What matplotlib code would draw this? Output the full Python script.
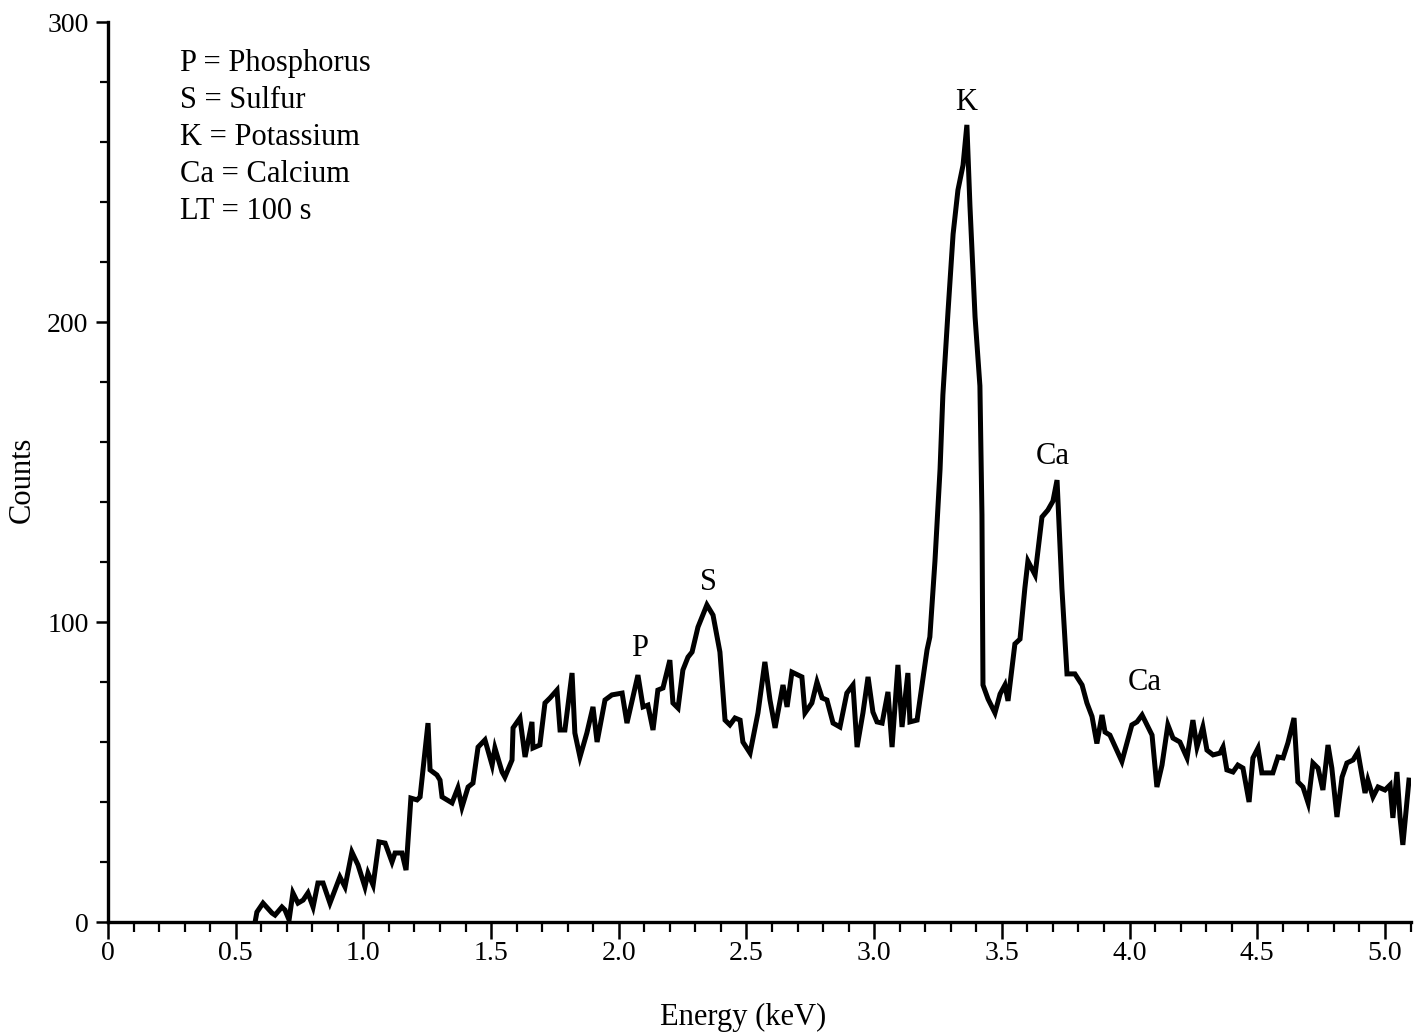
import matplotlib
matplotlib.use('Agg')
from matplotlib import pyplot as plt
from matplotlib.ticker import MultipleLocator

plt.rcParams['font.family'] = 'Liberation Serif'

# spectrum: energy (keV) and counts
energy = [
    0.576, 0.583, 0.607, 0.642, 0.654, 0.681, 0.693, 0.709, 0.724, 0.744,
    0.764, 0.783, 0.803, 0.822, 0.842, 0.869, 0.908, 0.928, 0.955, 0.979,
    1.006, 1.018, 1.038, 1.061, 1.085, 1.112, 1.124, 1.151, 1.167, 1.186,
    1.210, 1.222, 1.241, 1.253, 1.261, 1.288, 1.300, 1.308, 1.347, 1.370,
    1.386, 1.410, 1.429, 1.449, 1.476, 1.504, 1.515, 1.543, 1.554, 1.582,
    1.586, 1.613, 1.633, 1.660, 1.664, 1.691, 1.711, 1.731, 1.758, 1.770,
    1.789, 1.817, 1.828, 1.848, 1.875, 1.899, 1.915, 1.946, 1.973, 2.013,
    2.032, 2.075, 2.095, 2.114, 2.134, 2.153, 2.173, 2.200, 2.212, 2.232,
    2.251, 2.271, 2.287, 2.310, 2.345, 2.369, 2.396, 2.416, 2.435, 2.455,
    2.475, 2.486, 2.514, 2.545, 2.572, 2.592, 2.612, 2.643, 2.659, 2.678,
    2.717, 2.729, 2.756, 2.776, 2.796, 2.815, 2.839, 2.866, 2.893, 2.917,
    2.933, 2.956, 2.976, 2.995, 3.011, 3.031, 3.054, 3.070, 3.093, 3.109,
    3.132, 3.140, 3.168, 3.179, 3.207, 3.218, 3.238, 3.258, 3.269, 3.289,
    3.309, 3.328, 3.348, 3.363, 3.375, 3.395, 3.414, 3.422, 3.426, 3.446,
    3.473, 3.493, 3.512, 3.524, 3.551, 3.571, 3.590, 3.602, 3.630, 3.657,
    3.680, 3.700, 3.716, 3.735, 3.755, 3.786, 3.814, 3.833, 3.853, 3.872,
    3.892, 3.904, 3.923, 3.970, 4.009, 4.029, 4.049, 4.068, 4.088, 4.107,
    4.127, 4.150, 4.170, 4.197, 4.225, 4.248, 4.264, 4.287, 4.303, 4.327,
    4.354, 4.366, 4.381, 4.405, 4.424, 4.444, 4.468, 4.483, 4.503, 4.518,
    4.561, 4.581, 4.601, 4.620, 4.644, 4.659, 4.679, 4.699, 4.718, 4.738,
    4.757, 4.777, 4.792, 4.812, 4.832, 4.851, 4.875, 4.894, 4.922, 4.933,
    4.953, 4.973, 5.000, 5.020, 5.031, 5.047, 5.059, 5.070, 5.094,
]
counts = [
    0.0, 3.3, 6.3, 3.0, 2.3, 5.0, 4.0, 0.7, 9.7, 6.3,
    7.3, 9.7, 5.0, 13.0, 13.0, 6.3, 15.0, 11.7, 23.3, 19.0,
    11.7, 16.3, 12.3, 26.7, 26.3, 20.0, 23.0, 23.0, 17.3, 41.3,
    40.7, 41.7, 56.7, 66.3, 50.7, 49.0, 47.3, 41.7, 39.7, 44.7,
    38.3, 45.0, 46.3, 58.3, 60.7, 52.3, 58.0, 50.0, 48.3, 54.0,
    64.7, 68.0, 55.0, 66.7, 58.0, 59.0, 73.0, 74.7, 77.3, 64.0,
    64.0, 83.0, 63.0, 55.0, 63.0, 71.7, 60.0, 74.0, 75.7, 76.3,
    66.3, 82.3, 71.7, 72.3, 64.0, 77.3, 78.0, 87.3, 73.0, 71.3,
    84.0, 88.3, 90.0, 98.3, 105.7, 102.3, 90.0, 67.3, 65.7, 68.0,
    67.3, 60.0, 56.3, 69.7, 86.7, 74.0, 64.7, 79.0, 71.7, 83.3,
    81.7, 69.7, 73.0, 80.0, 74.7, 74.0, 66.3, 65.0, 76.3, 79.0,
    58.3, 69.7, 81.7, 70.0, 66.7, 66.3, 76.7, 58.3, 85.7, 65.0,
    83.0, 66.7, 67.3, 74.0, 90.7, 95.0, 120.3, 151.0, 175.7, 203.3,
    229.3, 244.0, 252.3, 265.7, 238.7, 201.7, 178.7, 135.7, 79.0, 74.3,
    69.7, 76.0, 79.0, 73.7, 92.7, 94.3, 111.3, 120.3, 115.7, 135.0,
    137.3, 140.3, 147.3, 111.3, 82.7, 82.7, 79.0, 73.0, 68.5, 59.5,
    69.0, 63.3, 62.3, 53.5, 65.7, 66.7, 69.0, 65.7, 62.3, 45.0,
    52.3, 65.7, 61.3, 60.0, 54.7, 67.3, 58.3, 65.0, 57.3, 55.7,
    56.3, 58.3, 50.7, 50.0, 52.3, 51.3, 40.0, 54.7, 58.0, 49.7,
    49.7, 55.0, 54.7, 59.7, 68.0, 46.7, 45.0, 39.7, 53.0, 51.3,
    44.0, 59.0, 51.3, 35.0, 48.3, 53.0, 54.0, 56.7, 43.0, 47.3,
    41.7, 45.0, 44.0, 45.7, 34.7, 50.0, 35.0, 25.7, 47.3,
]
assert len(energy) == len(counts)

x_ticks = [0, 0.5, 1.0, 1.5, 2.0, 2.5, 3.0, 3.5, 4.0, 4.5, 5.0]
x_tick_labels = ['0', '0.5', '1.0', '1.5', '2.0', '2.5', '3.0', '3.5', '4.0', '4.5', '5.0']
y_ticks = [0, 100, 200, 300]

key_lines = ['P = Phosphorus', 'S = Sulfur', 'K = Potassium', 'Ca = Calcium', 'LT = 100 s']

# element labels over the peaks
peak_names = ['P', 'S', 'K', 'Ca', 'Ca']
peak_energy = [2.08, 2.35, 3.36, 3.70, 4.06]
peak_label_y = [91, 113, 273, 155, 80]

fig = plt.figure(figsize=(14.18, 10.32), dpi=100)
ax = fig.add_axes([108 / 1418, 110 / 1032, 1302.5 / 1418, 900 / 1032])

ax.plot(energy, counts, color='black', linewidth=3.6, solid_joinstyle='miter')

ax.set_xlim(0, 5.1)
ax.set_ylim(0, 300)
ax.spines['top'].set_visible(False)
ax.spines['right'].set_visible(False)
ax.spines['left'].set_linewidth(2.4)
ax.spines['bottom'].set_linewidth(2.4)

ax.set_xticks(x_ticks)
ax.set_xticklabels(x_tick_labels)
ax.xaxis.set_minor_locator(MultipleLocator(0.1))
ax.set_yticks(y_ticks)
ax.yaxis.set_minor_locator(MultipleLocator(20))
ax.tick_params(axis='x', which='major', direction='out', length=12, width=1.8, labelsize=20, pad=2)
ax.tick_params(axis='x', which='minor', direction='out', length=7, width=1.6)
ax.tick_params(axis='y', which='major', direction='out', length=9, width=1.8, labelsize=20, pad=5)
ax.tick_params(axis='y', which='minor', direction='out', length=6, width=1.6)

fig.text(743 / 1418, 1 - 1017 / 1032, 'Energy (keV)', fontsize=22, ha='center', va='center')
fig.text(22 / 1418, 1 - 480 / 1032, 'Counts', fontsize=22, ha='center', va='center', rotation=90)

for i, line in enumerate(key_lines):
    ax.text(0.282, 286.3 - i * 12.4, line, fontsize=22, ha='left', va='center')

for name, e, y in zip(peak_names, peak_energy, peak_label_y):
    ax.text(e, y, name, fontsize=22, ha='center', va='center')

fig.savefig('out.png', dpi=100)
